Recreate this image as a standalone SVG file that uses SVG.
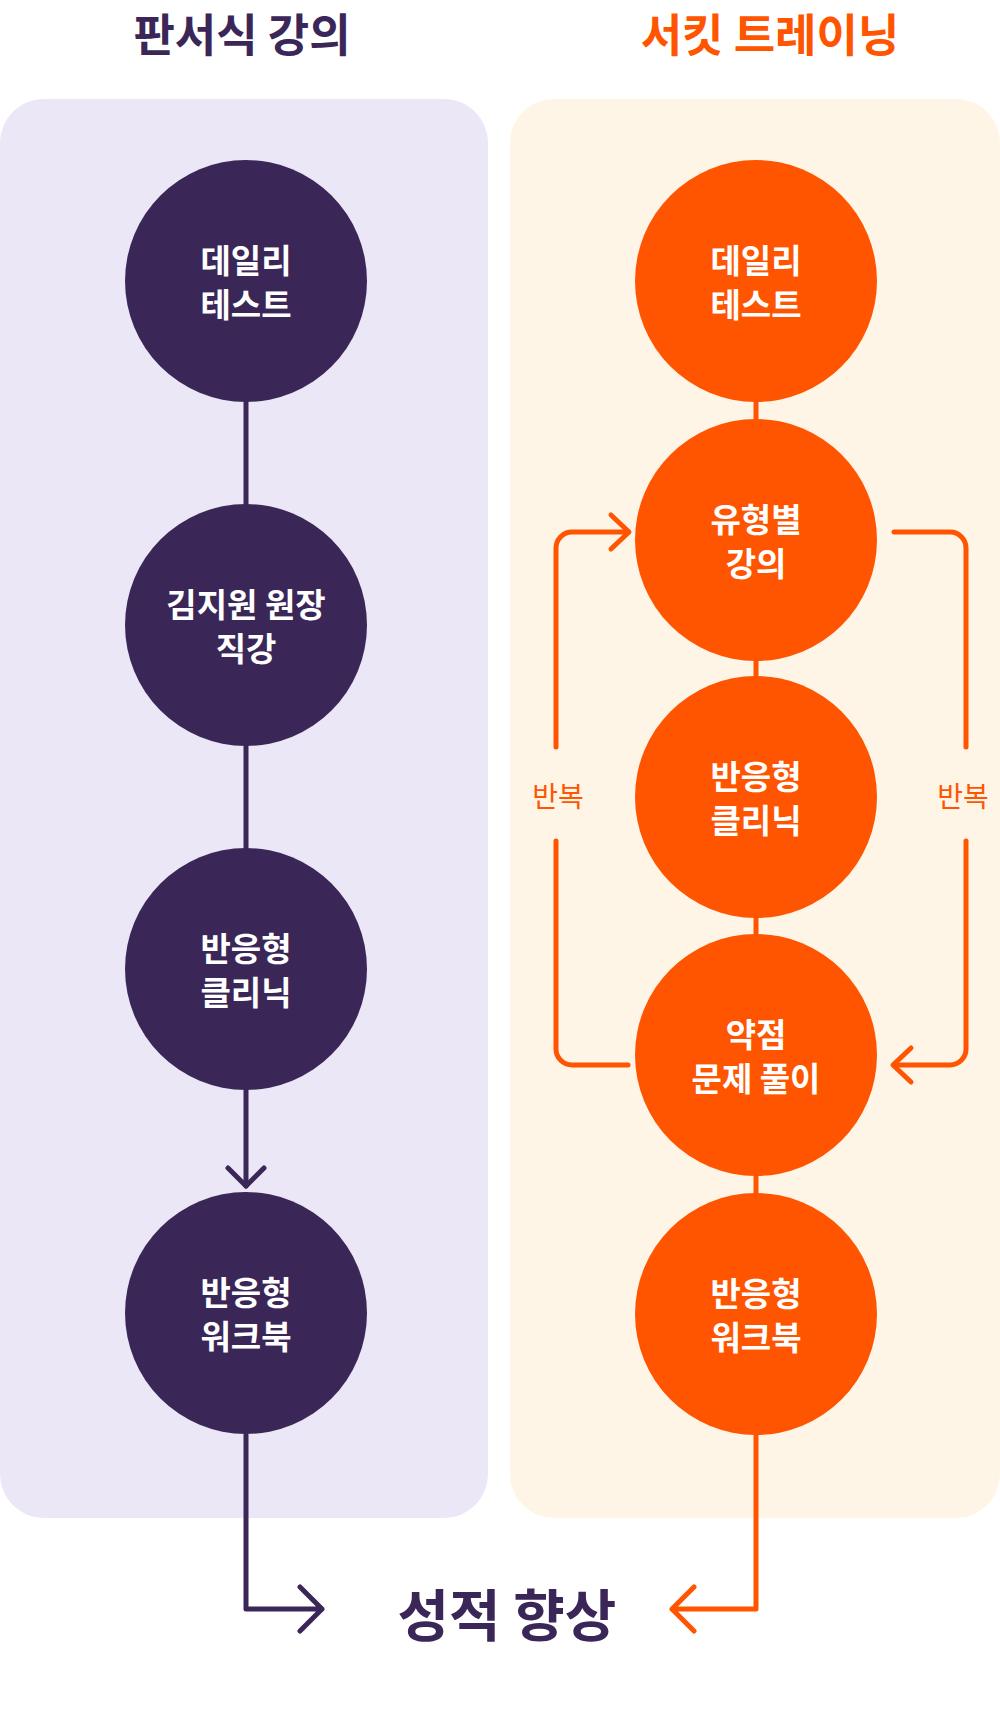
<svg xmlns="http://www.w3.org/2000/svg" width="1000" height="1727" viewBox="0 0 1000 1727">
<style>
.t{font-family:"Noto Sans CJK KR","Noto Sans",sans-serif;font-weight:700;}
.title{font-size:45px;text-anchor:middle;dominant-baseline:central;}
.nt{font-size:33px;fill:#fff;text-anchor:middle;dominant-baseline:central;}
.lbl{font-family:"Noto Sans CJK KR","Noto Sans",sans-serif;font-weight:400;font-size:28px;fill:#FF5500;text-anchor:middle;dominant-baseline:central;}
.p{fill:#3A2758;}
.o{fill:#FF5500;}
.lp{stroke:#3A2758;stroke-width:5;fill:none;stroke-linecap:round;stroke-linejoin:round;}
.lo{stroke:#FF5500;stroke-width:5;fill:none;stroke-linecap:round;stroke-linejoin:round;}
</style>
<rect width="1000" height="1727" fill="#fff"/>
<g id="panel-left"><rect x="0" y="99" width="488" height="1419" rx="44" fill="#ECE7F7"/></g>
<g id="panel-right"><rect x="510" y="99" width="490" height="1419" rx="44" fill="#FFF5E6"/></g>
<g id="title-left"><text class="t title" x="242" y="32" fill="#3A2758">판서식 강의</text></g>
<g id="title-right"><text class="t title" x="770" y="32" fill="#FF5500">서킷 트레이닝</text></g>
<g id="connectors">
<path class="lp" d="M246 402 V504 M246 746 V848 M246 1090 V1186"/>
<path class="lp" d="M228 1168 L246 1186 L264 1168"/>
<path class="lo" d="M756 402 V419 M756 661 V676 M756 918 V934 M756 1176 V1193"/>
<path class="lo" d="M628 1065 H572 A16 16 0 0 1 556 1049 V841 M556 747 V548 A16 16 0 0 1 572 532 H628"/>
<path class="lo" d="M611 515 L629 532 L611 549"/>
<path class="lo" d="M894 532 H950 A16 16 0 0 1 966 548 V747 M966 841 V1049 A16 16 0 0 1 950 1065 H894"/>
<path class="lo" d="M911 1048 L893 1065 L911 1082"/>
<path class="lp" d="M246 1435 V1609 H322 M300 1587 L322 1609 L300 1631"/>
<path class="lo" d="M756 1435 V1609 H672 M694 1587 L672 1609 L694 1631"/>
</g>
<g id="label-repeat-left"><text class="lbl" x="558" y="795">반복</text></g>
<g id="label-repeat-right"><text class="lbl" x="963" y="795">반복</text></g>
<g id="l1"><circle class="p" cx="246" cy="281" r="121"/><text class="t nt" x="246" y="259">데일리</text><text class="t nt" x="246" y="303">테스트</text></g>
<g id="l2"><circle class="p" cx="246" cy="625" r="121"/><text class="t nt" x="246" y="603">김지원 원장</text><text class="t nt" x="246" y="647">직강</text></g>
<g id="l3"><circle class="p" cx="246" cy="969" r="121"/><text class="t nt" x="246" y="947">반응형</text><text class="t nt" x="246" y="991">클리닉</text></g>
<g id="l4"><circle class="p" cx="246" cy="1313" r="121"/><text class="t nt" x="246" y="1291">반응형</text><text class="t nt" x="246" y="1335">워크북</text></g>
<g id="r1"><circle class="o" cx="756" cy="281" r="121"/><text class="t nt" x="756" y="259">데일리</text><text class="t nt" x="756" y="303">테스트</text></g>
<g id="r2"><circle class="o" cx="756" cy="540" r="121"/><text class="t nt" x="756" y="518">유형별</text><text class="t nt" x="756" y="562">강의</text></g>
<g id="r3"><circle class="o" cx="756" cy="797" r="121"/><text class="t nt" x="756" y="775">반응형</text><text class="t nt" x="756" y="819">클리닉</text></g>
<g id="r4"><circle class="o" cx="756" cy="1055" r="121"/><text class="t nt" x="756" y="1033">약점</text><text class="t nt" x="756" y="1077">문제 풀이</text></g>
<g id="r5"><circle class="o" cx="756" cy="1314" r="121"/><text class="t nt" x="756" y="1292">반응형</text><text class="t nt" x="756" y="1336">워크북</text></g>
<g id="result"><text class="t" x="507" y="1611" font-size="56" fill="#3A2758" text-anchor="middle" dominant-baseline="central">성적 향상</text></g>
</svg>
